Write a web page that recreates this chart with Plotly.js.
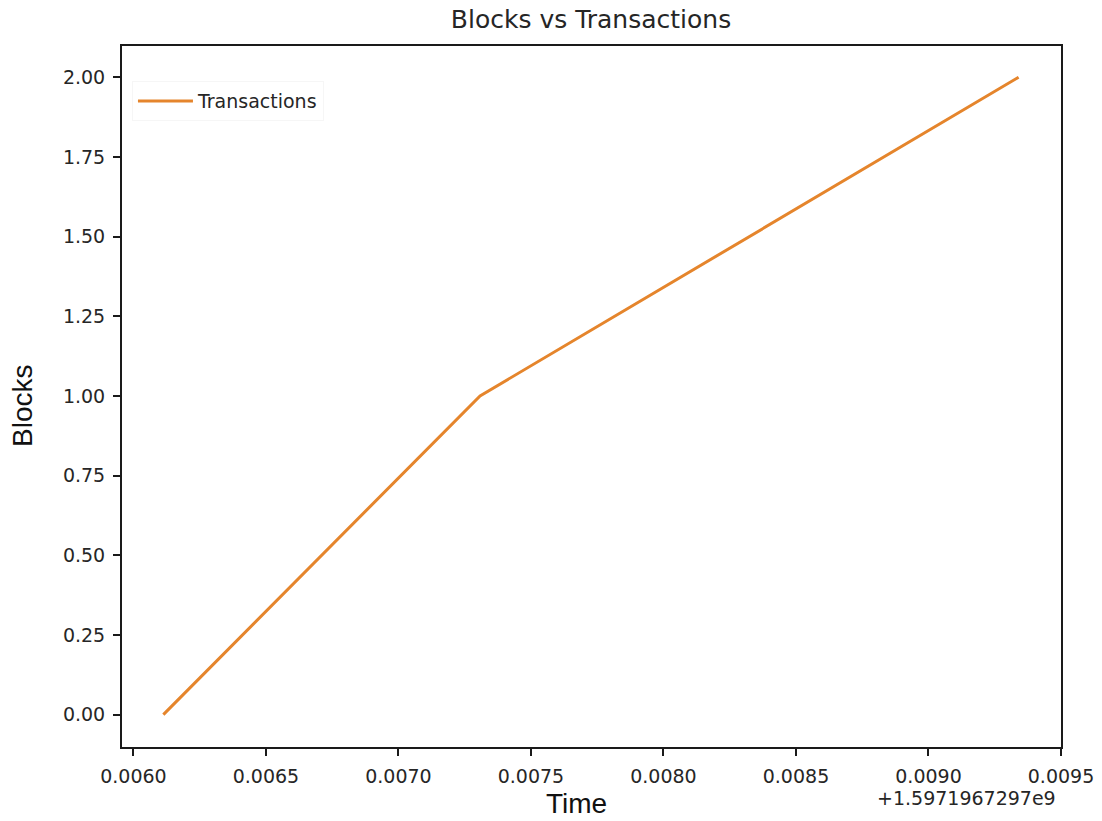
<!DOCTYPE html>
<html>
<head>
<meta charset="utf-8">
<script src="https://cdn.plot.ly/plotly-3.0.1.min.js"></script>
<style>
  html, body { margin: 0; padding: 0; background: #fff; }
  #chart { width: 1102px; height: 821px; }
</style>
</head>
<body>
<div id="chart"></div>
<script>
// Block timestamps are stored relative to a common epoch offset (seconds)
const timeOffset = 1.5971967297e9;
const timeOffsetLabel = '+1.5971967297e9';
const timeValues = [0.006113, 0.007308, 0.009340];
const blockCounts = [0, 1, 2];
const seriesName = 'Transactions';

const tickFont = { family: 'DejaVu Sans, sans-serif', size: 19, color: '#262626' };

const trace = {
  x: timeValues,
  y: blockCounts,
  type: 'scatter',
  mode: 'lines',
  name: seriesName,
  line: { color: '#e5852c', width: 3 },
  showlegend: true
};

const axisCommon = {
  showline: true,
  linecolor: '#1a1a1a',
  linewidth: 2,
  mirror: true,
  showgrid: false,
  zeroline: false,
  ticks: 'outside',
  ticklen: 7,
  tickwidth: 2,
  tickcolor: '#1a1a1a',
  tickfont: tickFont
};

const layout = {
  width: 1102,
  height: 821,
  margin: { l: 122, r: 41, t: 46, b: 74 },
  paper_bgcolor: '#ffffff',
  plot_bgcolor: '#ffffff',
  title: {
    text: 'Blocks vs Transactions',
    font: { family: 'DejaVu Sans, sans-serif', size: 25, color: '#262626' },
    x: 0.4995, xref: 'paper', xanchor: 'center',
    y: 1 - 19 / 821, yref: 'container', yanchor: 'middle'
  },
  xaxis: Object.assign({}, axisCommon, {
    range: [0.005957, 0.0095],
    tick0: 0,
    dtick: 0.0005,
    tickformat: '.4f',
    ticklabelstandoff: 4
  }),
  yaxis: Object.assign({}, axisCommon, {
    range: [-0.1017, 2.098],
    tick0: 0,
    dtick: 0.25,
    tickformat: '.2f',
    ticklabelstandoff: 4
  }),
  legend: {
    x: 0.0106, xanchor: 'left',
    y: 0.9215, yanchor: 'middle',
    bgcolor: 'rgba(255,255,255,0.8)',
    bordercolor: '#f6f6f6',
    borderwidth: 1,
    itemwidth: 55,
    font: { family: 'DejaVu Sans, sans-serif', size: 19, color: '#262626' }
  },
  annotations: [
    {
      text: 'Time',
      xref: 'paper', yref: 'paper',
      x: (576.5 - 122) / 939, y: (747 - 803) / 701,
      xanchor: 'center', yanchor: 'middle',
      showarrow: false,
      font: { family: 'Liberation Sans, Arial, sans-serif', size: 28, color: '#111' }
    },
    {
      text: 'Blocks',
      xref: 'paper', yref: 'paper',
      x: (22 - 122) / 939, y: (747 - 406) / 701,
      xanchor: 'center', yanchor: 'middle',
      textangle: -90,
      showarrow: false,
      font: { family: 'Liberation Sans, Arial, sans-serif', size: 28, color: '#111' }
    },
    {
      text: timeOffsetLabel,
      xref: 'paper', yref: 'paper',
      x: (1058 - 122) / 939, y: (747 - 798) / 701,
      xanchor: 'right', yanchor: 'middle',
      showarrow: false,
      font: tickFont
    }
  ]
};

Plotly.newPlot('chart', [trace], layout, { displayModeBar: false, staticPlot: true });
</script>
</body>
</html>
